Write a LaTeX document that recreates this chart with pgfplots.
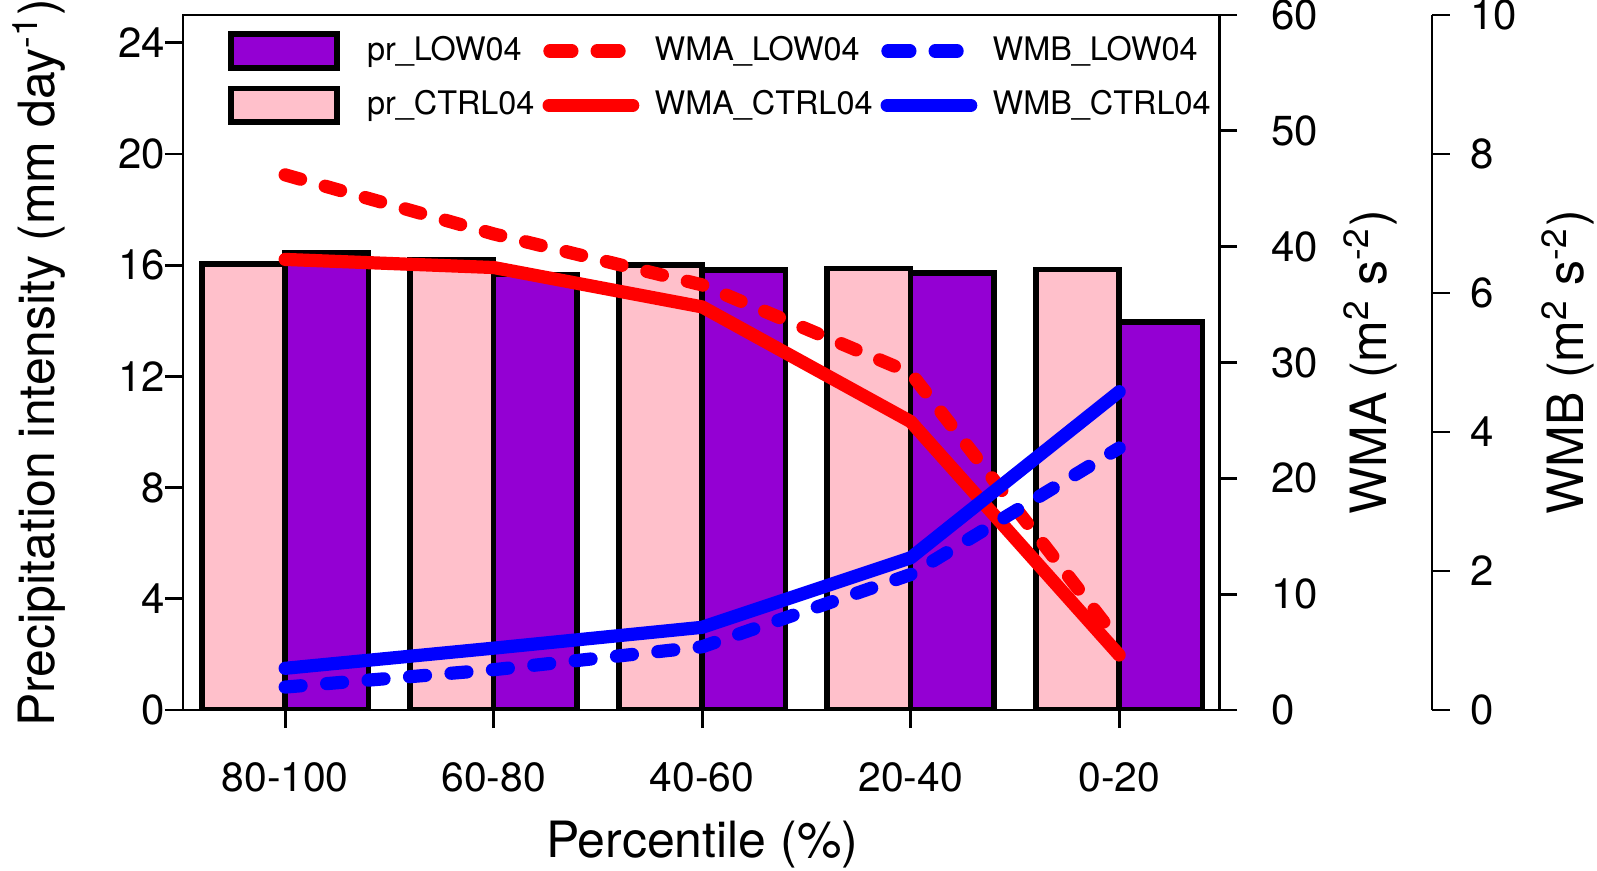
\documentclass[border=0pt]{standalone}
\usepackage{fontspec}
\setmainfont{TeX Gyre Heros}
\usepackage{pgfplots}
\pgfplotsset{compat=1.18}
\definecolor{prlow}{RGB}{148,0,211}
\definecolor{prctrl}{RGB}{255,192,203}
\pgfplotsset{
  barlegend/.style={legend image code/.code={\draw[##1] (0pt,-4.2pt) rectangle (26.5pt,4.2pt); \path[draw=none,fill=none] (0pt,0pt) -- (32pt,0pt);}},
  linelegend/.style={legend image code/.code={\draw[##1] (1.6pt,0pt) -- (22.5pt,0pt); \path[draw=none,fill=none] (0pt,0pt) -- (26pt,0pt);}},
  dashlegend/.style={legend image code/.code={\draw[##1, solid] (1.8pt,0pt) -- (7.3pt,0pt) (13.6pt,0pt) -- (19.1pt,0pt); \path[draw=none,fill=none] (0pt,0pt) -- (26pt,0pt);}},
  wline/.style={line width=3.3pt, line join=round, line cap=round},
  wdash/.style={line width=3.3pt, line join=round, line cap=round, dash pattern=on 4pt off 6.4pt},
  every axis/.append style={
    scale only axis, height=173.75pt, at={(0,0)}, anchor=south west,
    ymin=0,
    tick align=outside, major tick length=4.5pt,
    axis line style={line width=0.7pt},
    every tick/.style={line width=0.7pt, black},
    tick label style={font=\fontsize{10.5}{12}\selectfont},
    label style={font=\fontsize{12.5}{14}\selectfont},
    /pgf/number format/assume math mode=true,
  },
}
\begin{document}
\begin{tikzpicture}
% main axis: precipitation bars
\begin{axis}[
  name=main,
  width=259.06pt, xmin=-0.49, xmax=4.48, ymax=25,
  tick pos=left,
  xtick={0,1,2,3,4}, xticklabels={80-100,60-80,40-60,20-40,0-20},
  ytick={0,4,8,12,16,20,24},
  xticklabel style={yshift=-5pt, font=\fontsize{10.2}{12}\selectfont},
  yticklabel style={xshift=3.5pt},
  xlabel={Percentile (\%)},
  xlabel style={at={(axis description cs:0.501,-0.194)}, anchor=center},
  ylabel={Precipitation intensity (mm day\textsuperscript{-1})},
  ylabel style={at={(axis description cs:-0.139,0.5)}, anchor=center},
]
\addplot[ybar, bar width=0.4, bar shift=0pt, fill=prctrl, draw=black, line width=1.4pt]
  coordinates {(-0.2,16.05) (0.8,16.18) (1.8,16.0) (2.8,15.88) (3.8,15.85)};
\addplot[ybar, bar width=0.4, bar shift=0pt, fill=prlow, draw=black, line width=1.4pt]
  coordinates {(0.2,16.45) (1.2,15.67) (2.2,15.83) (3.2,15.72) (4.2,13.96)};
\end{axis}
% WMA axis
\begin{axis}[
  width=259.06pt, xmin=-0.49, xmax=4.48, ymax=60,
  axis y line*=right, axis x line=none,
  ytick={0,10,20,30,40,50,60},
  yticklabel style={xshift=5pt},
  ylabel={WMA (m\textsuperscript{2} s\textsuperscript{-2})},
  ylabel style={at={(axis description cs:1.146,0.5)}, anchor=center},
]
\addplot[red, wdash] coordinates {(0,46.2) (1,41.1) (2,36.7) (3,29.1) (4,5.9)};
\addplot[red, wline] coordinates {(0,38.9) (1,38.2) (2,34.8) (3,24.9) (4,4.75)};
\end{axis}
% WMB axis
\begin{axis}[
  width=312.23pt, xmin=-0.49, xmax=5.5, ymax=10,
  axis y line*=right, axis x line=none,
  ytick={0,2,4,6,8,10},
  yticklabel style={xshift=1.5pt},
  ylabel={WMB (m\textsuperscript{2} s\textsuperscript{-2})},
  ylabel style={at={(axis description cs:1.109,0.5)}, anchor=center},
  legend columns=3,
  legend cell align=left,
  legend style={at={(axis description cs:0.026,0.994)}, anchor=north west,
    draw=none, fill=none, font=\fontsize{8.1}{10}\selectfont,
    column sep=0pt, row sep=2pt},
]
\addlegendimage{barlegend, fill=prlow, draw=black, line width=1.4pt}
\addlegendentry{pr\_LOW04}
\addlegendimage{dashlegend, red, wdash}
\addlegendentry{WMA\_LOW04}
\addlegendimage{dashlegend, blue, wdash}
\addlegendentry{WMB\_LOW04}
\addlegendimage{barlegend, fill=prctrl, draw=black, line width=1.4pt}
\addlegendentry{pr\_CTRL04}
\addlegendimage{linelegend, red, wline}
\addlegendentry{WMA\_CTRL04}
\addlegendimage{linelegend, blue, wline}
\addlegendentry{WMB\_CTRL04}
\addplot[blue, wdash, forget plot] coordinates {(0,0.33) (1,0.58) (2,0.91) (3,1.95) (4,3.77)};
\addplot[blue, wline, forget plot] coordinates {(0,0.60) (1,0.89) (2,1.19) (3,2.19) (4,4.58)};
\end{axis}
\pgfresetboundingbox
\path[use as bounding box] (-45.75pt,-40pt) rectangle (353.5pt,177.5pt);
\end{tikzpicture}
\end{document}
